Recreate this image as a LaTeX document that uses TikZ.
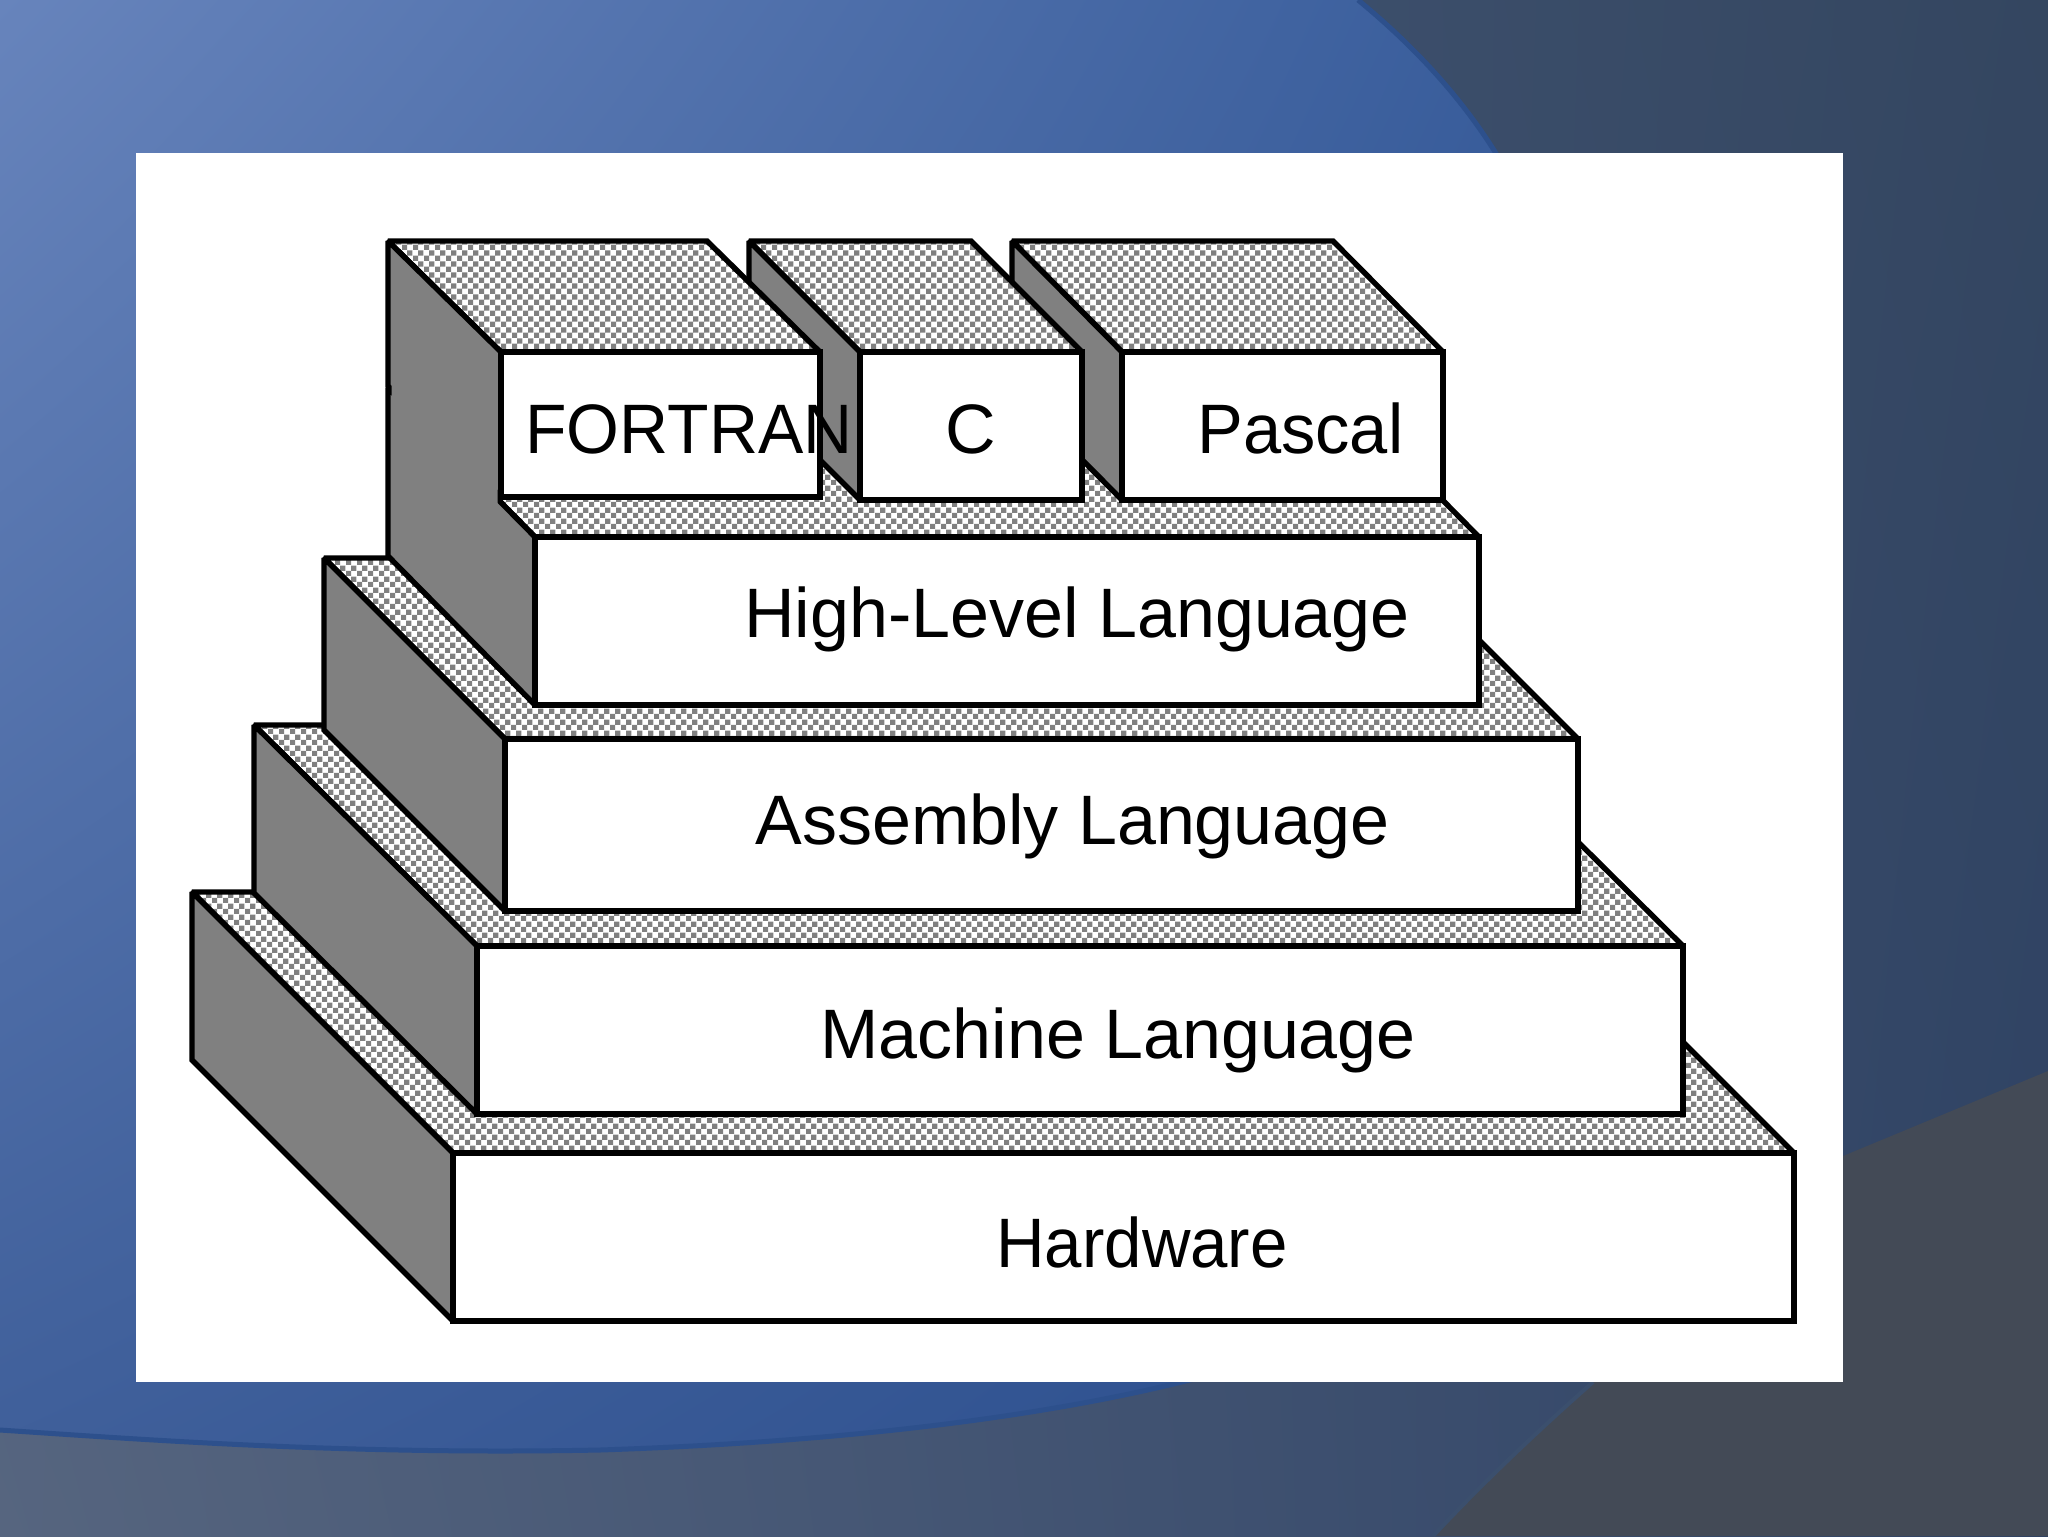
\documentclass[tikz,border=0pt]{standalone}
\usepackage{fontspec}
\setmainfont{Liberation Sans}
\usetikzlibrary{patterns,shadings}
\pgfdeclarepatternformonly{checker}{\pgfqpoint{0pt}{0pt}}{\pgfqpoint{5.6pt}{5.6pt}}{\pgfqpoint{5.6pt}{5.6pt}}{%
  \pgfpathrectangle{\pgfqpoint{0pt}{0pt}}{\pgfqpoint{2.8pt}{2.8pt}}%
  \pgfpathrectangle{\pgfqpoint{2.8pt}{2.8pt}}{\pgfqpoint{2.8pt}{2.8pt}}%
  \pgfusepath{fill}}
\definecolor{baseUL}{HTML}{4A5E80}
\definecolor{baseUR}{HTML}{344660}
\definecolor{baseLL}{HTML}{56657F}
\definecolor{baseLR}{HTML}{2F4366}
\definecolor{slateG}{HTML}{434A56}
\definecolor{slateEdge}{HTML}{3B4F6D}
\definecolor{blueUL}{HTML}{6784BC}
\definecolor{blueUR}{HTML}{3A5E9C}
\definecolor{blueLL}{HTML}{3F5F9A}
\definecolor{blueLR}{HTML}{2C4F8E}
\definecolor{blueEdge}{HTML}{2D508C}
\definecolor{midgray}{HTML}{808080}
\tikzset{
  outl/.style={draw=black, line width=2.7pt, line join=miter, miter limit=1.5},
  topface/.style={outl, preaction={fill=white}, pattern=checker, pattern color=midgray},
  sideface/.style={outl, fill=midgray},
  frontface/.style={outl, fill=white},
  lbl/.style={anchor=base west, inner sep=0pt, text=black, font=\fontsize{35}{40}\selectfont}
}
\newcommand{\layerblock}[6]{%
  \path[topface] ({#1-#5},{#2-#6}) -- ({#3-#5},{#2-#6}) -- (#3,#2) -- (#1,#2) -- cycle;
  \path[sideface] ({#1-#5},{#2-#6}) -- (#1,#2) -- (#1,#4) -- ({#1-#5},{#4-#6}) -- cycle;
  \path[frontface] (#1,#2) rectangle (#3,#4);
}
\begin{document}
\begin{tikzpicture}[x=0.5pt,y=-0.5pt]
\useasboundingbox (0,0) rectangle (2048,1536);
% background
\shade[upper left=baseUL, upper right=baseUR, lower left=baseLL, lower right=baseLR] (0,0) rectangle (2048,1536);
\fill[slateG] (1433,1536) .. controls (1490,1475) and (1550,1420) .. (1593,1382) -- (1700,1250) -- (1843,1156) -- (2048,1071) -- (2048,1536) -- cycle;
\draw[slateEdge, line width=2pt] (1433,1536) .. controls (1490,1475) and (1550,1420) .. (1593,1382);
\shade[upper left=blueUL, upper right=blueUR, lower left=blueLL, lower right=blueLR]
  (0,0) -- (1358,0) .. controls (1425,55) and (1470,110) .. (1500,160) -- (1500,1000) -- (1260,1360)
  .. controls (1120,1405) and (900,1440) .. (600,1450) .. controls (350,1455) and (150,1440) .. (0,1430) -- cycle;
\draw[blueEdge, line width=2.5pt] (1358,0) .. controls (1425,55) and (1470,110) .. (1500,160);
\draw[blueEdge, line width=2.5pt] (1260,1360) .. controls (1120,1405) and (900,1440) .. (600,1450) .. controls (350,1455) and (150,1440) .. (0,1430);
% white panel
\fill[white] (136,153) rectangle (1843,1382);
% blocks, back to front
\layerblock{453}{1153}{1794}{1321}{261}{261}
\layerblock{477}{946}{1683}{1114}{223}{221}
\layerblock{505}{739}{1578}{911}{181}{181}
\layerblock{535}{537}{1479}{705}{147}{149}
\layerblock{1122}{352}{1443}{500}{110}{111}
\layerblock{860}{352}{1082}{500}{111}{111}
\layerblock{501}{352}{820}{497}{113}{111}
% seamless grey between FORTRAN side face and High-Level side face
\fill[midgray] (391.5,368) -- (497.5,476) -- (497.5,515) -- (391.5,405) -- cycle;
\fill[white] (370,372) rectangle (385.1,402);
% labels
\node[lbl] (fortran) at (525,453) {\scalebox{0.97}[1]{FORTRAN}};
\node[lbl] (clang) at (945,453) {C};
\node[lbl] (pascal) at (1197,453) {\scalebox{0.98}[1]{Pascal}};
\node[lbl] (hll) at (744,637) {High-Level Language};
\node[lbl] (asm) at (755,844) {Assembly Language};
\node[lbl] (mach) at (820,1058) {Machine Language};
\node[lbl] (hw) at (996,1267) {\scalebox{0.96}[1]{Hardware}};
\end{tikzpicture}
\end{document}
